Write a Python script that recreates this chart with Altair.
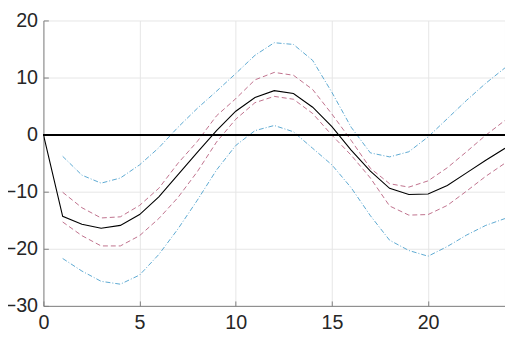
import altair as alt
import pandas as pd

# ---- data ----
x_all = list(range(0, 25))
x_band = list(range(1, 25))

response = [0, -14.3, -15.7, -16.4, -15.9, -14.0, -10.9, -7.0, -3.1, 0.7, 4.1, 6.5,
            7.7, 7.2, 4.8, 1.4, -2.7, -6.4, -9.4, -10.5, -10.4, -8.9, -6.7, -4.5, -2.4]
inner_upper = [-10.1, -12.8, -14.6, -14.4, -12.4, -9.4, -5.0, -1.2, 3.3, 6.3, 9.6, 10.9,
               10.4, 7.9, 3.6, -1.0, -5.9, -8.6, -9.2, -8.1, -5.8, -3.0, -0.1, 2.5]
inner_lower = [-15.3, -17.7, -19.5, -19.5, -17.7, -14.7, -11.0, -6.5, -1.3, 2.7, 5.6, 6.7,
               6.2, 3.7, -0.1, -3.6, -7.6, -12.5, -14.1, -14.0, -12.4, -9.9, -7.3, -5.0]
outer_upper = [-3.8, -7.1, -8.5, -7.6, -5.3, -2.3, 1.3, 4.6, 7.6, 10.7, 13.9, 16.1,
               15.8, 13.0, 7.4, 1.3, -3.2, -3.9, -3.0, -0.4, 2.8, 6.0, 9.0, 11.7]
outer_lower = [-21.7, -23.9, -25.7, -26.2, -24.6, -21.0, -16.5, -11.5, -6.2, -1.9, 0.7, 1.6,
               0.5, -2.4, -5.3, -9.3, -14.2, -18.5, -20.3, -21.3, -19.6, -17.6, -15.9, -14.7]

x_ticks = [0, 5, 10, 15, 20]
y_ticks = [-30, -20, -10, 0, 10, 20]

df_resp = pd.DataFrame({"x": x_all, "y": response})
df_inner = pd.concat([
    pd.DataFrame({"x": x_band, "y": inner_upper, "s": "upper"}),
    pd.DataFrame({"x": x_band, "y": inner_lower, "s": "lower"}),
])
df_outer = pd.concat([
    pd.DataFrame({"x": x_band, "y": outer_upper, "s": "upper"}),
    pd.DataFrame({"x": x_band, "y": outer_lower, "s": "lower"}),
])

FONT = "Liberation Sans"
xscale = alt.Scale(domain=[0, 24], nice=False, zero=False)
yscale = alt.Scale(domain=[-30, 20], nice=False, zero=False)

x_axis = alt.Axis(orient="bottom", values=x_ticks, title=None, grid=True, gridColor="#e6e6e6",
                  ticks=False, domainColor="#808080", labelFont=FONT, labelFontSize=20,
                  labelColor="#262626", labelPadding=7, labelFlush=False)
y_axis = alt.Axis(orient="left", values=y_ticks, title=None, grid=True, gridColor="#e6e6e6",
                  ticks=False, domainColor="#808080", labelFont=FONT, labelFontSize=20,
                  labelColor="#262626", labelPadding=6, labelFlush=False)

Xa = alt.X("x:Q", scale=xscale, axis=x_axis)
Ya = alt.Y("y:Q", scale=yscale, axis=y_axis)
Xn = alt.X("x:Q", scale=xscale, axis=None)
Yn = alt.Y("y:Q", scale=yscale, axis=None)

outer = alt.Chart(df_outer).mark_line(
    color="#4a9fcc", strokeWidth=0.9, strokeDash=[5, 2, 1, 2], clip=True
).encode(x=Xa, y=Ya, detail="s:N")

inner = alt.Chart(df_inner).mark_line(
    color="#b8607f", strokeWidth=0.9, strokeDash=[5, 3], clip=True
).encode(x=Xn, y=Yn, detail="s:N")

resp = alt.Chart(df_resp).mark_line(color="#000000", strokeWidth=1.1, clip=True).encode(x=Xn, y=Yn)

zero = alt.Chart(df_resp).mark_rule(color="#000000", strokeWidth=1.2).encode(y=alt.datum(0))

# inward ticks via a second, offset axis set
tick_layer = alt.Chart(df_resp).mark_line(opacity=0).encode(
    x=alt.X("x:Q", scale=xscale, axis=alt.Axis(orient="bottom", values=x_ticks, offset=-5,
            labels=False, domain=False, grid=False, ticks=True, tickSize=5,
            tickColor="#808080", title=None)),
    y=alt.Y("y:Q", scale=yscale, axis=alt.Axis(orient="left", values=y_ticks, offset=-5,
            labels=False, domain=False, grid=False, ticks=True, tickSize=5,
            tickColor="#808080", title=None)),
)

chart = alt.layer(outer, inner, resp, zero, tick_layer).resolve_axis(
    x="independent", y="independent"
).properties(
    width=469, height=290,
    autosize=alt.AutoSizeParams(type="none"),
    padding={"left": 36, "top": 10, "right": 0, "bottom": 31},
).configure_view(stroke=None)

chart.save("out.html", embed_options={"renderer": "svg", "actions": False})
